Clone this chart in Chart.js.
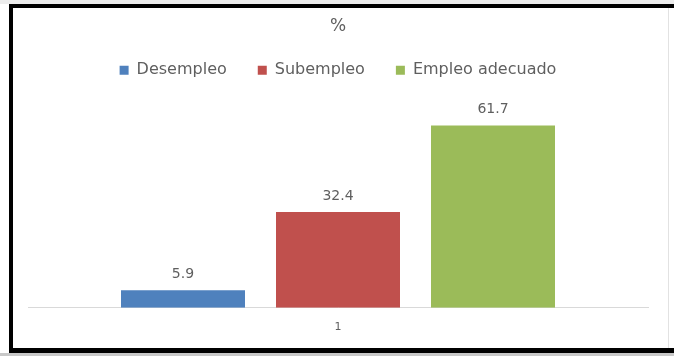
<!DOCTYPE html>
<html>
<head>
<meta charset="utf-8">
<script src="https://cdn.jsdelivr.net/npm/chart.js@4"></script>
<style>
  html, body { margin: 0; padding: 0; background: #fff; }
  #wrap { position: relative; width: 674px; height: 356px; overflow: hidden; }
  #chart { position: absolute; left: 0; top: 0; }
  /* marco negro de la captura */
  #topstrip { position: absolute; left: 0; top: 0; width: 674px; height: 4px; background: #ececec; }
  #frame { position: absolute; left: 9px; top: 4px; width: 665px; height: 340px;
           border-top: 4px solid #000; border-left: 4px solid #000; border-bottom: 5px solid #000;
           pointer-events: none; }
  #botstrip { position: absolute; left: 0; top: 353px; width: 674px; height: 3px; background: #c8c8c8; }
  #rline { position: absolute; left: 668px; top: 8px; width: 1px; height: 340px; background: #e2e2e2; }
</style>
</head>
<body>
<div id="wrap">
  <canvas id="chart" width="674" height="356"></canvas>
  <div id="topstrip"></div>
  <div id="frame"></div>
  <div id="botstrip"></div>
  <div id="rline"></div>
</div>
<script>
// Datos
const categories = ['1'];
const seriesNames = ['Desempleo', 'Subempleo', 'Empleo adecuado'];
const desempleo = [5.9];
const subempleo = [32.4];
const empleoAdecuado = [61.7];
const seriesColors = ['#4F81BD', '#C0504D', '#9BBB59'];

const textColor = '#5f5f5f';

// Plugin para escribir el valor encima de cada barra
const valueLabels = {
  id: 'valueLabels',
  afterDatasetsDraw(chart) {
    const { ctx } = chart;
    ctx.save();
    ctx.font = '14px "DejaVu Sans"';
    ctx.fillStyle = textColor;
    ctx.textAlign = 'center';
    ctx.textBaseline = 'middle';
    chart.data.datasets.forEach((ds, i) => {
      chart.getDatasetMeta(i).data.forEach((bar, j) => {
        ctx.fillText(ds.data[j].toFixed(1), bar.x, bar.y - 16);
      });
    });
    ctx.restore();
  }
};

const allSeries = [desempleo, subempleo, empleoAdecuado];

new Chart(document.getElementById('chart').getContext('2d'), {
  type: 'bar',
  data: {
    labels: categories,
    datasets: allSeries.map((vals, i) => ({
      label: seriesNames[i],
      data: vals,
      backgroundColor: seriesColors[i],
      borderWidth: 0,
      categoryPercentage: 0.75,
      barPercentage: 0.8
    }))
  },
  options: {
    responsive: false,
    animation: false,
    layout: { padding: { left: 28, right: 26, top: 12, bottom: 17 } },
    scales: {
      x: {
        grid: { display: false },
        border: { display: true, color: '#d9d9d9', width: 1 },
        ticks: { color: textColor, font: { family: 'DejaVu Sans', size: 11 }, padding: 5 }
      },
      y: {
        display: false,
        min: 0,
        max: 74.3
      }
    },
    plugins: {
      title: {
        display: true,
        text: '%',
        color: textColor,
        font: { family: 'DejaVu Sans', size: 17, weight: 'normal', lineHeight: 0.5 },
        padding: { top: 10.75, bottom: 0 }
      },
      legend: {
        position: 'top',
        labels: {
          color: textColor,
          font: { family: 'DejaVu Sans', size: 16 },
          boxWidth: 9,
          boxHeight: 9,
          padding: 31
        }
      },
      tooltip: { enabled: false }
    }
  },
  plugins: [valueLabels]
});
</script>
</body>
</html>
